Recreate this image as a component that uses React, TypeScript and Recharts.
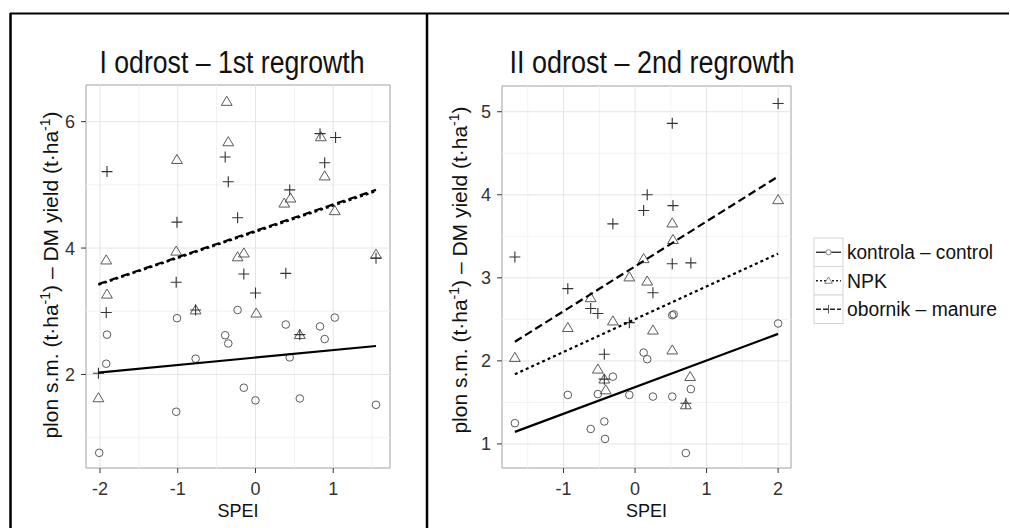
import React from 'react';
import { ScatterChart, Scatter, XAxis, YAxis, ReferenceLine, ReferenceArea, Label } from 'recharts';

const FONT = "'Liberation Sans', Arial, Helvetica, sans-serif";

// ---------- Panel I: 1st regrowth ----------
const leftControl: [number, number][] = [
  [-0.23, 3.02], [-1.01, 2.89], [1.02, 2.9], [0.39, 2.79], [0.83, 2.76], [-1.91, 2.63],
  [-0.39, 2.62], [-0.35, 2.49], [0.89, 2.56], [-1.92, 2.17], [-0.77, 2.25], [0.44, 2.27],
  [-0.15, 1.79], [0.0, 1.59], [0.57, 1.62], [-1.02, 1.41], [1.55, 1.52], [-2.01, 0.76],
];
const leftNPK: [number, number][] = [
  [-0.37, 6.32], [0.84, 5.76], [-0.35, 5.68], [-1.01, 5.4], [0.89, 5.14], [0.45, 4.79],
  [0.37, 4.71], [1.02, 4.59], [-1.02, 3.95], [-1.92, 3.81], [-0.23, 3.86], [-0.15, 3.92],
  [1.55, 3.9], [-1.91, 3.27], [-0.77, 3.02], [0.01, 2.97], [0.57, 2.63], [-2.02, 1.63],
];
const leftManure: [number, number][] = [
  [0.83, 5.81], [1.03, 5.75], [-0.39, 5.44], [-1.91, 5.21], [0.89, 5.35], [-0.35, 5.05],
  [0.44, 4.92], [-1.01, 4.41], [-0.23, 4.48], [1.55, 3.84], [-0.15, 3.59], [0.39, 3.6],
  [-1.02, 3.46], [0.0, 3.29], [-1.92, 2.98], [-0.77, 3.02], [0.57, 2.63], [-2.02, 2.02],
];
const leftFitControl: [number, number][] = [[-2.02, 2.03], [1.55, 2.45]];
const leftFitNPK: [number, number][] = [[-2.02, 3.42], [1.55, 4.9]];
const leftFitManure: [number, number][] = [[-2.02, 3.43], [1.55, 4.92]];
const leftXDomain: [number, number] = [-2.18, 1.73];
const leftYDomain: [number, number] = [0.52, 6.58];
const leftXTicks = [-2, -1, 0, 1];
const leftXMinor = [-1.5, -0.5, 0.5, 1.5];
const leftYTicks = [2, 4, 6];
const leftYMinor = [1, 3, 5];

// ---------- Panel II: 2nd regrowth ----------
const rightControl: [number, number][] = [
  [0.52, 2.55], [0.54, 2.56], [2.0, 2.45], [0.12, 2.1], [0.17, 2.02], [-0.31, 1.81],
  [0.78, 1.66], [-0.94, 1.59], [-0.52, 1.6], [-0.08, 1.59], [0.25, 1.57], [0.52, 1.57],
  [-1.68, 1.25], [-0.43, 1.27], [-0.62, 1.18], [-0.42, 1.06], [0.71, 0.89],
];
const rightNPK: [number, number][] = [
  [2.0, 3.94], [0.52, 3.66], [0.53, 3.46], [0.12, 3.23], [-0.08, 3.01], [0.17, 2.96],
  [-0.62, 2.76], [-0.31, 2.48], [-0.94, 2.4], [0.25, 2.37], [-1.68, 2.04], [0.52, 2.13],
  [-0.52, 1.9], [-0.43, 1.78], [0.77, 1.81], [-0.41, 1.65], [0.71, 1.47],
];
const rightManure: [number, number][] = [
  [2.0, 5.1], [0.52, 4.86], [0.17, 4.0], [0.12, 3.81], [0.53, 3.87], [-0.31, 3.65],
  [-1.68, 3.25], [0.52, 3.17], [0.78, 3.18], [-0.94, 2.87], [0.25, 2.82], [-0.62, 2.63],
  [-0.52, 2.57], [-0.08, 2.46], [-0.43, 2.08], [-0.43, 1.78], [0.71, 1.49],
];
const rightFitControl: [number, number][] = [[-1.68, 1.145], [2.0, 2.325]];
const rightFitNPK: [number, number][] = [[-1.68, 1.84], [2.0, 3.29]];
const rightFitManure: [number, number][] = [[-1.68, 2.23], [2.0, 4.22]];
const rightXDomain: [number, number] = [-1.86, 2.18];
const rightYDomain: [number, number] = [0.71, 5.31];
const rightXTicks = [-1, 0, 1, 2];
const rightXMinor = [-1.5, -0.5, 0.5, 1.5];
const rightYTicks = [1, 2, 3, 4, 5];
const rightYMinor = [1.5, 2.5, 3.5, 4.5];

const titles = ['I odrost \u2013 1st regrowth', 'II odrost \u2013 2nd regrowth'];
const legendLabels = ['kontrola \u2013 control', 'NPK', 'obornik \u2013 manure'];
const xLabel = 'SPEI';

const toPts = (a: [number, number][]) => a.map(([x, y]) => ({ x, y }));

const CircleShape = (p: any) => (
  <circle cx={p.cx} cy={p.cy} r={3.8} fill="none" stroke="#5a5a5a" strokeWidth={1} />
);
const TriShape = (p: any) => (
  <path
    d={`M${p.cx},${p.cy - 5.2} L${p.cx + 5.4},${p.cy + 3.9} L${p.cx - 5.4},${p.cy + 3.9} Z`}
    fill="none"
    stroke="#5a5a5a"
    strokeWidth={1}
  />
);
const PlusShape = (p: any) => (
  <path
    d={`M${p.cx - 5.5},${p.cy} H${p.cx + 5.5} M${p.cx},${p.cy - 5.5} V${p.cy + 5.5}`}
    stroke="#333"
    strokeWidth={1.1}
    fill="none"
  />
);
const NoShape = () => <g />;

const XTick = (p: any) => (
  <text x={p.x} y={p.y} dy={20} textAnchor="middle" fontSize={18} fill="#333" fontFamily={FONT}>
    {String(p.payload.value)}
  </text>
);
const YTick = (p: any) => (
  <text x={p.x} y={p.y} dx={-4} dy={6.5} textAnchor="end" fontSize={18} fill="#333" fontFamily={FONT}>
    {String(p.payload.value)}
  </text>
);

const XTitle = (p: any) => {
  const vb = p.viewBox || {};
  return (
    <text x={vb.x + vb.width / 2} y={vb.y + 49} textAnchor="middle" fontSize={18} fill="#111" fontFamily={FONT}>
      {xLabel}
    </text>
  );
};

type PanelProps = {
  width: number;
  margin: { top: number; right: number; bottom: number; left: number };
  xDomain: [number, number];
  yDomain: [number, number];
  xTicks: number[];
  xMinor: number[];
  yTicks: number[];
  yMinor: number[];
  control: [number, number][];
  npk: [number, number][];
  manure: [number, number][];
  fitControl: [number, number][];
  fitNPK: [number, number][];
  fitManure: [number, number][];
};

const Panel = (pp: PanelProps) => (
  <ScatterChart width={pp.width} height={528} margin={pp.margin}>
    <XAxis
      type="number"
      dataKey="x"
      domain={pp.xDomain}
      ticks={pp.xTicks}
      allowDataOverflow
      axisLine={false}
      tickLine={{ stroke: '#333', strokeWidth: 1 }}
      tickSize={5}
      interval={0}
      height={50}
      tick={XTick}
    >
      <Label content={XTitle} />
    </XAxis>
    <YAxis
      type="number"
      dataKey="y"
      domain={pp.yDomain}
      ticks={pp.yTicks}
      allowDataOverflow
      axisLine={false}
      tickLine={{ stroke: '#333', strokeWidth: 1 }}
      tickSize={5}
      interval={0}
      width={40}
      tick={YTick}
    />
    {pp.xMinor.map((v) => (
      <ReferenceLine key={'xm' + v} x={v} stroke="#f2f2f2" strokeWidth={1} />
    ))}
    {pp.yMinor.map((v) => (
      <ReferenceLine key={'ym' + v} y={v} stroke="#f2f2f2" strokeWidth={1} />
    ))}
    {pp.xTicks.map((v) => (
      <ReferenceLine key={'xM' + v} x={v} stroke="#e4e4e4" strokeWidth={1} />
    ))}
    {pp.yTicks.map((v) => (
      <ReferenceLine key={'yM' + v} y={v} stroke="#e4e4e4" strokeWidth={1} />
    ))}
    <Scatter data={toPts(pp.control)} shape={CircleShape} isAnimationActive={false} />
    <Scatter data={toPts(pp.npk)} shape={TriShape} isAnimationActive={false} />
    <Scatter data={toPts(pp.manure)} shape={PlusShape} isAnimationActive={false} />
    <Scatter
      data={toPts(pp.fitControl)}
      shape={NoShape}
      line={{ stroke: '#000', strokeWidth: 2.2 }}
      isAnimationActive={false}
    />
    <Scatter
      data={toPts(pp.fitNPK)}
      shape={NoShape}
      line={{ stroke: '#000', strokeWidth: 2.2, strokeDasharray: '3 3' }}
      isAnimationActive={false}
    />
    <Scatter
      data={toPts(pp.fitManure)}
      shape={NoShape}
      line={{ stroke: '#000', strokeWidth: 2.2, strokeDasharray: '8 4' }}
      isAnimationActive={false}
    />
    <ReferenceArea
      x1={pp.xDomain[0]}
      x2={pp.xDomain[1]}
      y1={pp.yDomain[0]}
      y2={pp.yDomain[1]}
      fill="none"
      fillOpacity={0}
      stroke="#a0a0a0"
      strokeWidth={1}
      ifOverflow="visible"
    />
  </ScatterChart>
);

const YLabel = ({ x, y }: { x: number; y: number }) => (
  <text transform={`rotate(-90 ${x} ${y})`} x={x} y={y} textAnchor="middle" fontSize={21} fill="#111" fontFamily={FONT}>
    plon s.m. (t·ha<tspan dy={-8} fontSize={14}>-1</tspan>
    <tspan dy={8}>) – DM yield (t·ha</tspan>
    <tspan dy={-8} fontSize={14}>-1</tspan>
    <tspan dy={8}>)</tspan>
  </text>
);

const legendStyles = ['solid', 'dotted', 'dashed'];

const LegendKey = ({ i, y }: { i: number; y: number }) => {
  const cx = 828.5;
  const dash = legendStyles[i] === 'dotted' ? '2 2' : legendStyles[i] === 'dashed' ? '5 2' : undefined;
  return (
    <g>
      <rect x={814} y={y} width={29} height={28.5} fill="#fff" stroke="#d6d6d6" strokeWidth={1} />
      <line x1={816} x2={841} y1={y + 14.25} y2={y + 14.25} stroke="#222" strokeWidth={1.3} strokeDasharray={dash} />
      {i === 0 && <circle cx={cx} cy={y + 14.25} r={2.6} fill="#fff" stroke="#777" strokeWidth={0.9} />}
      {i === 1 && (
        <path
          d={`M${cx},${y + 10.5} L${cx + 3.8},${y + 16.8} L${cx - 3.8},${y + 16.8} Z`}
          fill="#fff"
          stroke="#777"
          strokeWidth={0.9}
        />
      )}
      {i === 2 && <line x1={cx} x2={cx} y1={y + 10} y2={y + 18.5} stroke="#555" strokeWidth={1} />}
    </g>
  );
};

const legendWidths = [146, 40, 150];

export default function App() {
  return (
    <div style={{ position: 'absolute', left: 0, top: 0, width: 1010, height: 528, background: '#fff', fontFamily: FONT }}>
      <div style={{ position: 'absolute', left: 0, top: 0 }}>
        <Panel
          width={425}
          margin={{ top: 85, right: 35, bottom: 10, left: 46 }}
          xDomain={leftXDomain}
          yDomain={leftYDomain}
          xTicks={leftXTicks}
          xMinor={leftXMinor}
          yTicks={leftYTicks}
          yMinor={leftYMinor}
          control={leftControl}
          npk={leftNPK}
          manure={leftManure}
          fitControl={leftFitControl}
          fitNPK={leftFitNPK}
          fitManure={leftFitManure}
        />
      </div>
      <div style={{ position: 'absolute', left: 425, top: 0 }}>
        <Panel
          width={585}
          margin={{ top: 86, right: 219, bottom: 10, left: 37 }}
          xDomain={rightXDomain}
          yDomain={rightYDomain}
          xTicks={rightXTicks}
          xMinor={rightXMinor}
          yTicks={rightYTicks}
          yMinor={rightYMinor}
          control={rightControl}
          npk={rightNPK}
          manure={rightManure}
          fitControl={rightFitControl}
          fitNPK={rightFitNPK}
          fitManure={rightFitManure}
        />
      </div>
      <svg width={1010} height={528} style={{ position: 'absolute', left: 0, top: 0, pointerEvents: 'none' }}>
        <line x1={10} y1={13.5} x2={1009} y2={13.5} stroke="#000" strokeWidth={2} />
        <line x1={10.5} y1={13} x2={10.5} y2={528} stroke="#000" strokeWidth={2.5} />
        <line x1={427} y1={13} x2={427} y2={528} stroke="#000" strokeWidth={2.5} />
        <text x={232} y={73} textAnchor="middle" fontSize={31} fill="#111" fontFamily={FONT} textLength={265} lengthAdjust="spacingAndGlyphs">
          {titles[0]}
        </text>
        <text x={652} y={73} textAnchor="middle" fontSize={31} fill="#111" fontFamily={FONT} textLength={285} lengthAdjust="spacingAndGlyphs">
          {titles[1]}
        </text>
        <YLabel x={58} y={275} />
        <YLabel x={467} y={270} />
        {legendLabels.map((lab, i) => (
          <g key={lab}>
            <LegendKey i={i} y={238 + i * 28.5} />
            <text
              x={847}
              y={238 + i * 28.5 + 21}
              fontSize={20}
              fill="#111"
              fontFamily={FONT}
              textLength={legendWidths[i]}
              lengthAdjust="spacingAndGlyphs"
            >
              {lab}
            </text>
          </g>
        ))}
      </svg>
    </div>
  );
}
